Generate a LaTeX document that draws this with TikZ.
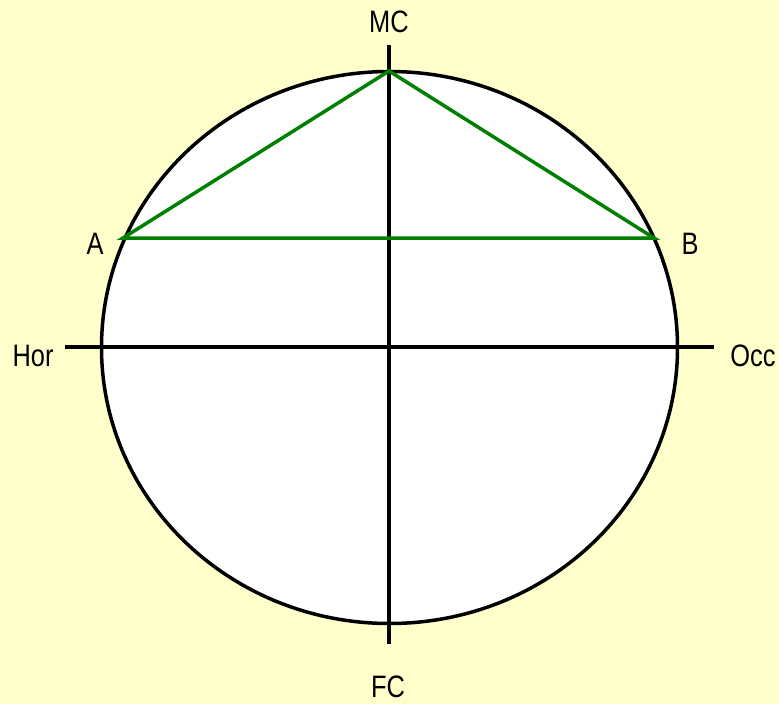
\documentclass[tikz,border=0pt]{standalone}
\usepackage{fontspec}
\setmainfont{Liberation Sans}
\definecolor{paper}{HTML}{FFFFCC}
\definecolor{chord}{HTML}{008000}
\begin{document}
\begin{tikzpicture}[x=1pt,y=-1pt,
    axis/.style={line width=3.5pt,black},
    tri/.style={line width=3.5pt,chord,line join=miter},
    lbl/.style={inner sep=0pt,font=\fontsize{31}{31}\selectfont,xscale=0.82}]
  \fill[paper] (0,0) rectangle (779,704);
  \useasboundingbox (0,0) rectangle (779,704);
  % the circle
  \draw[axis,fill=white] (389.5,347.5) ellipse [x radius=288, y radius=276];
  % axes
  \coordinate (top) at (389,45);
  \coordinate (bot) at (389,644);
  \coordinate (lft) at (65,347);
  \coordinate (rgt) at (714,347);
  \draw[axis] (top) -- (bot);
  \draw[axis] (lft) -- (rgt);
  % triangle
  \coordinate (mc) at (389,71);
  \coordinate (a) at (123,238);
  \coordinate (b) at (654,238);
  \draw[tri] (a) -- (mc) -- (b) -- cycle;
  % labels
  \node[lbl] (mclbl) at (389,22) {MC};
  \node[lbl] (fclbl) at (388,687) {FC};
  \node[lbl] (horlbl) at (33,356) {Hor};
  \node[lbl] (occlbl) at (753,356) {Occ};
  \node[lbl] (albl) at (95,244) {A};
  \node[lbl] (blbl) at (690,244) {B};
\end{tikzpicture}
\end{document}
